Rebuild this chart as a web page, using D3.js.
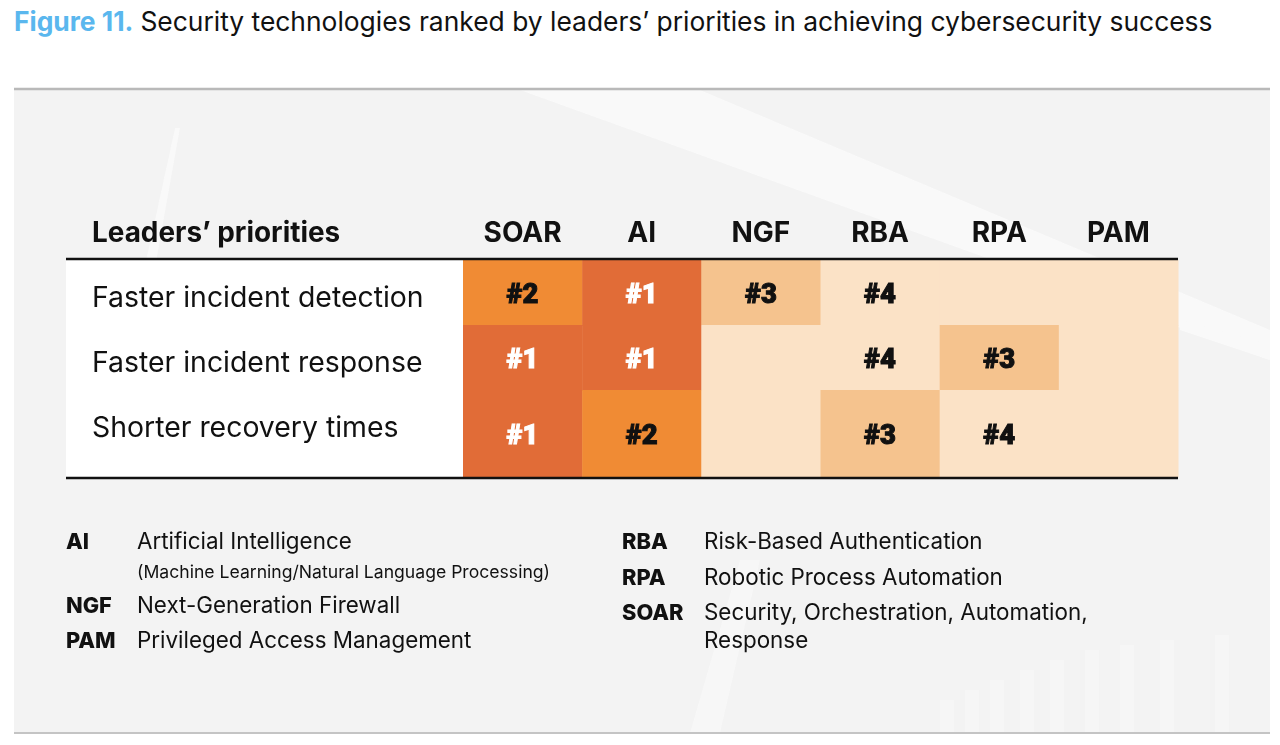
<!DOCTYPE html>
<html><head><meta charset="utf-8">
<script src="https://cdn.jsdelivr.net/npm/d3@7"></script>
<style>body{margin:0;background:#fff;}svg{display:block;font-family:Inter,Roboto,"Liberation Sans",sans-serif;}</style>
</head><body><svg id="c" width="1280" height="745"></svg>
<script>
const technologies = ["SOAR","AI","NGF","RBA","RPA","PAM"];
const priorities = ["Faster incident detection","Faster incident response","Shorter recovery times"];
const ranksDetection = [2,1,3,4,null,null];
const ranksResponse  = [1,1,null,4,3,null];
const ranksRecovery  = [1,2,null,3,4,null];
const rankRows = [ranksDetection, ranksResponse, ranksRecovery];
const legendLeft = [["AI","Artificial Intelligence","(Machine Learning/Natural Language Processing)"],["NGF","Next-Generation Firewall"],["PAM","Privileged Access Management"]];
const legendRight = [["RBA","Risk-Based Authentication"],["RPA","Robotic Process Automation"],["SOAR","Security, Orchestration, Automation,","Response"]];

const svg = d3.select("#c");
// title
const t = svg.append("text").attr("x",14).attr("y",31).attr("font-size",26.4).attr("fill","#111");
t.append("tspan").attr("font-weight",700).attr("fill","#5ab7ee").text("Figure 11.");
t.append("tspan").attr("dx",7).text("Security technologies ranked by leaders’ priorities in achieving cybersecurity success");

// panel background
svg.append("rect").attr("x",14).attr("y",90).attr("width",1256).attr("height",643).attr("fill","#f3f3f3");
const deco = svg.append("g").attr("fill","#fbfbfb").attr("opacity",0.85);
deco.append("path").attr("d","M520,90 L700,90 L1270,330 L1270,360 Z");
deco.append("path").attr("d","M120,380 L175,128 L180,128 L135,380 Z").attr("opacity",0.8);
deco.append("path").attr("d","M690,733 L740,560 L760,560 L720,733 Z").attr("opacity",0.6);
deco.append("path").attr("d","M1180,320 L1270,345 L1270,360 L1180,330 Z");
const stairs = [[940,700],[965,690],[990,680],[1020,670],[1050,660],[1085,650],[1120,645],[1160,640],[1215,635]];
deco.selectAll("rect.st").data(stairs).join("rect").attr("class","st")
  .attr("x",d=>d[0]).attr("y",d=>d[1]).attr("width",14).attr("height",d=>733-d[1]).attr("fill","#fdfdfd").attr("opacity",0.45);
svg.append("line").attr("x1",14).attr("x2",1270).attr("y1",89).attr("y2",89).attr("stroke","#b9b9b9").attr("stroke-width",2.5);
svg.append("line").attr("x1",14).attr("x2",1270).attr("y1",733).attr("y2",733).attr("stroke","#c4c4c4").attr("stroke-width",2);

// table
const x = d3.scaleBand().domain(technologies).range([463,1178]);
const rowTops = [260,325,390,477];
const y = d3.scaleOrdinal().domain(priorities).range(rowTops.slice(0,3));
const hgt = p => rowTops[priorities.indexOf(p)+1]-rowTops[priorities.indexOf(p)];
const color = d3.scaleOrdinal().domain([1,2,3,4]).range(["#e16c37","#f08b34","#f5c38e","#fbe2c6"]).unknown("#fbe2c6");

svg.append("rect").attr("x",66).attr("y",260).attr("width",397).attr("height",217).attr("fill","#ffffff");

const cells = [];
priorities.forEach((p,i)=>technologies.forEach((tech,j)=>cells.push({p,tech,r:rankRows[i][j]})));
svg.append("g").selectAll("rect").data(cells).join("rect")
  .attr("x",d=>x(d.tech)).attr("y",d=>y(d.p)).attr("width",x.bandwidth()+0.5).attr("height",d=>hgt(d.p)+0.5)
  .attr("fill",d=>color(d.r));
svg.append("g").selectAll("text").data(cells.filter(d=>d.r!=null)).join("text")
  .attr("x",d=>x(d.tech)+x.bandwidth()/2).attr("y",d=>y(d.p)+hgt(d.p)/2+10)
  .attr("text-anchor","middle").attr("font-size",27.5).attr("font-weight",900)
  .attr("font-family","Roboto, Inter, sans-serif")
  .attr("stroke",d=>d.r===1?"#fff":"#111").attr("stroke-width",1)
  .attr("fill",d=>d.r===1?"#fff":"#111").text(d=>"#"+d.r);

// header
svg.append("text").attr("x",92).attr("y",242).attr("font-size",27.9).attr("font-weight",700).attr("fill","#111").text("Leaders’ priorities");
svg.append("g").selectAll("text").data(technologies).join("text")
  .attr("x",d=>x(d)+x.bandwidth()/2).attr("y",242).attr("text-anchor","middle")
  .attr("font-size",28).attr("font-weight",700).attr("fill","#111").text(d=>d);
// row labels
svg.append("g").selectAll("text").data(priorities).join("text")
  .attr("x",92).attr("y",d=>y(d)+47).attr("font-size",28.4).attr("fill","#111").text(d=>d);

svg.append("line").attr("x1",66).attr("x2",1178).attr("y1",259).attr("y2",259).attr("stroke","#111").attr("stroke-width",2.5);
svg.append("line").attr("x1",66).attr("x2",1178).attr("y1",478).attr("y2",478).attr("stroke","#111").attr("stroke-width",2.5);

// legend
function legend(items, xa, xd, ys){
  const g = svg.append("g");
  items.forEach((it,i)=>{
    g.append("text").attr("x",xa).attr("y",ys[i][0]).attr("font-size",21.8).attr("font-weight",800).attr("fill","#111").text(it[0]);
    g.append("text").attr("x",xd).attr("y",ys[i][0]).attr("font-size",22.4).attr("fill","#111").text(it[1]);
    if(it[2]) g.append("text").attr("x",xd).attr("y",ys[i][1]).attr("font-size",it[0]==="AI"?17.6:22.4).attr("fill","#111").text(it[2]);
  });
}
legend(legendLeft,66,137,[[549,578],[613],[648]]);
legend(legendRight,622,704,[[549],[585],[620,648]]);
</script></body></html>
